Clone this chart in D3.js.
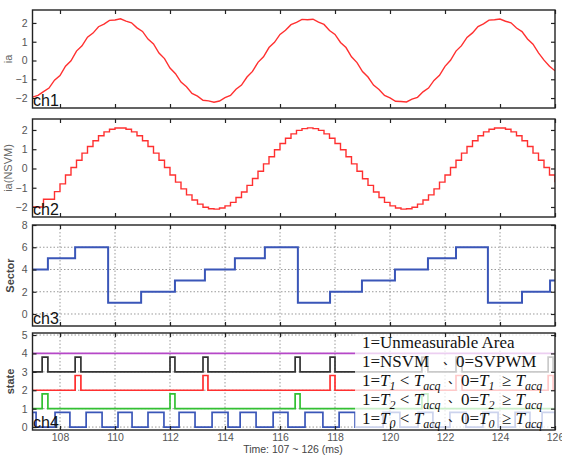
<!DOCTYPE html>
<html><head><meta charset="utf-8">
<script src="https://cdn.jsdelivr.net/npm/d3@7/dist/d3.min.js"></script>
<style>body{margin:0;background:#fff}svg{display:block}</style>
</head><body>
<svg id="c" width="562" height="456"></svg>
<script>
// ---------------- data ----------------
const sampleStart = 107, sampleStep = 0.2;   // ms
const ia = [-1.95,-1.86,-1.66,-1.47,-1.05,-0.80,-0.30,-0.02,0.50,0.78,1.24,1.46,1.80,1.94,2.14,2.16,
  2.22,2.10,2.01,1.74,1.55,1.14,0.88,0.40,0.10,-0.40,-0.70,-1.15,-1.40,-1.75,-1.90,-2.12,
  -2.15,-2.22,-2.16,-1.98,-1.86,-1.53,-1.31,-0.88,-0.58,-0.10,0.20,0.69,0.97,1.39,1.61,1.91,
  2.03,2.19,2.17,2.20,2.04,1.92,1.60,1.39,0.96,0.69,0.20,-0.11,-0.59,-0.88,-1.31,-1.54,
  -1.86,-1.99,-2.17,-2.18,-2.21,-2.06,-1.96,-1.67,-1.47,-1.06,-0.79,-0.31,0.01,0.50,0.79,1.23,
  1.47,1.81,1.95,2.15,2.17,2.21,2.09,2.01,1.73,1.54,1.15,0.87,0.41,0.02,-0.31,-0.55];
const iaNSVM = [-2.0,-2.0,-1.6,-1.6,-1.2,-0.8,-0.34,0.05,0.43,0.80,1.14,1.44,1.70,1.90,2.04,2.10,
  2.10,2.04,1.90,1.70,1.44,1.14,0.80,0.43,0.05,-0.34,-0.71,-1.06,-1.37,-1.64,-1.85,-2.01,
  -2.09,-2.11,-2.05,-1.94,-1.76,-1.51,-1.22,-0.88,-0.52,-0.14,0.24,0.61,0.97,1.30,1.57,1.80,
  1.98,2.07,2.11,2.07,1.98,1.80,1.57,1.30,0.97,0.61,0.24,-0.14,-0.53,-0.88,-1.22,-1.51,
  -1.76,-1.94,-2.05,-2.11,-2.09,-2.01,-1.85,-1.64,-1.37,-1.06,-0.71,-0.34,0.05,0.43,0.80,1.14,
  1.44,1.70,1.90,2.04,2.10,2.10,2.04,1.90,1.70,1.44,1.14,0.80,0.43,0.05,-0.34,-0.71];

const sectorTimes  = [107,107.56,108.55,109.75,110.95,112.18,113.27,114.36,115.45,116.65,117.82,118.98,120.18,121.38,122.40,123.56,124.80,125.82,126];
const sectorValues = [4,5,6,1,2,3,4,5,6,1,2,3,4,5,6,1,2,3,3];

// state channel pulses (ms)
const unmeasLevel = 4;
const nsvmOn   = [107.35,108.55,112.00,113.20,116.55,117.82,121.16,122.40,125.75];
const nsvmOff  = [107.56,108.76,112.18,113.38,116.73,118.00,121.38,122.62,125.93];
const t1On     = [108.55,113.20,117.82,122.40,125.75];
const t1Off    = [108.76,113.38,118.00,122.62,125.93];
const t2On     = [107.35,112.00,116.55,121.16];
const t2Off    = [107.56,112.18,116.73,121.38];
const t0On     = [107.00,107.82,108.95,110.11,111.20,112.33,113.53,114.55,115.75,116.91,118.15,119.75,121.02,122.18,123.38,124.55,125.53];
const t0Off    = [107.13,108.36,109.53,110.62,111.78,112.91,114.11,115.13,116.29,117.56,118.73,120.36,121.56,122.76,123.93,125.09,126.00];

const xTicks = [108,110,112,114,116,118,120,122,124,126];
const iaTicks = [-2,-1,0,1,2];
const sectorTicks = [0,2,4,6,8];
const stateTicks = [0,1,2,3,4,5];

// ---------------- layout ----------------
const svg = d3.select("#c");
const X0 = 32.5, X1 = 555;
const x = d3.scaleLinear().domain([107,126]).range([X0,X1]);
const panels = [
  {top:10,  bottom:108, dom:[-2.53,2.69], ticks:iaTicks,     label:"ia",       bold:false, ch:"ch1", grid:false},
  {top:119, bottom:217, dom:[-2.52,2.57], ticks:iaTicks,     label:"ia(NSVM)", bold:false, ch:"ch2", grid:false},
  {top:225, bottom:326, dom:[-1.08,8],    ticks:sectorTicks, label:"Sector",   bold:true,  ch:"ch3", grid:true},
  {top:333, bottom:430, dom:[-0.16,5.11], ticks:stateTicks,  label:"state",    bold:true,  ch:"ch4", grid:true}
];
panels.forEach(p => p.y = d3.scaleLinear().domain(p.dom).range([p.bottom,p.top]));

const font = "Arial, 'Liberation Sans', sans-serif";
const tickCol = "#555";

// grids
panels.forEach(p => {
  if (!p.grid) return;
  const g = svg.append("g").attr("stroke","#9a9a9a").attr("stroke-width",1).attr("stroke-dasharray","1.5,2");
  g.selectAll(".gx").data(xTicks.filter(t=>t<126)).enter().append("line")
    .attr("x1",d=>x(d)).attr("x2",d=>x(d)).attr("y1",p.top).attr("y2",p.bottom);
  g.selectAll(".gy").data(p.ticks.filter(t=>p.y(t)>p.top+1)).enter().append("line")
    .attr("x1",X0).attr("x2",X1).attr("y1",d=>p.y(d)).attr("y2",d=>p.y(d));
});

// clip
panels.forEach((p,i) => {
  svg.append("clipPath").attr("id","cp"+i).append("rect")
    .attr("x",X0).attr("y",p.top).attr("width",X1-X0).attr("height",p.bottom-p.top);
});

// panel 1
const sampT = i => sampleStart + i*sampleStep;
svg.append("path").attr("clip-path","url(#cp0)")
  .attr("d", d3.line().x((d,i)=>x(sampT(i))).y(d=>panels[0].y(d))(ia))
  .attr("fill","none").attr("stroke","#ff3030").attr("stroke-width",1.4);
// panel 2
svg.append("path").attr("clip-path","url(#cp1)")
  .attr("d", d3.line().curve(d3.curveStepAfter).x((d,i)=>x(sampT(i))).y(d=>panels[1].y(d))(iaNSVM))
  .attr("fill","none").attr("stroke","#ff3030").attr("stroke-width",1.4);
// panel 3
svg.append("path").attr("clip-path","url(#cp2)")
  .attr("d", d3.line().curve(d3.curveStepAfter).x(d=>x(d[0])).y(d=>panels[2].y(d[1]))(sectorTimes.map((t,i)=>[t,sectorValues[i]])))
  .attr("fill","none").attr("stroke","#3a56b8").attr("stroke-width",2);

// panel 4
function pulsePts(on, off, base, h){
  const pts = [[107, base]];
  on.forEach((t,i)=>{ pts.push([t,base],[t,base+h],[off[i],base+h],[off[i],base]); });
  pts.push([126, base]);
  return pts;
}
const p4 = panels[3];
const l4 = d3.line().x(d=>x(d[0])).y(d=>p4.y(d[1]));
const stateSeries = [
  {pts:[[107,unmeasLevel],[126,unmeasLevel]], col:"#b648c8"},
  {pts:pulsePts(nsvmOn,nsvmOff,3,0.8), col:"#333333"},
  {pts:pulsePts(t1On,t1Off,2,0.8), col:"#ff3030"},
  {pts:pulsePts(t2On,t2Off,1,0.8), col:"#33c033"},
  {pts:pulsePts(t0On,t0Off,0,0.8), col:"#3a56b8"}
];
stateSeries.forEach(s => svg.append("path").attr("clip-path","url(#cp3)")
  .attr("d", l4(s.pts)).attr("fill","none").attr("stroke",s.col).attr("stroke-width",1.7));

// legend overlay
svg.append("rect").attr("x",355).attr("y",334).attr("width",X1-355).attr("height",96)
  .attr("fill","#fff").attr("opacity",0.74);

// axes
panels.forEach((p,i) => {
  const last = i===3;
  const gL = svg.append("g").attr("transform",`translate(${X0},0)`)
    .call(d3.axisLeft(p.y).tickValues(p.ticks).tickSizeInner(-4).tickSizeOuter(0).tickPadding(5).tickFormat(d3.format("d")));
  const gR = svg.append("g").attr("transform",`translate(${X1},0)`)
    .call(d3.axisRight(p.y).tickValues(p.ticks).tickSizeInner(-4).tickSizeOuter(0).tickFormat(""));
  const gT = svg.append("g").attr("transform",`translate(0,${p.top})`)
    .call(d3.axisTop(x).tickValues(xTicks).tickSizeInner(-4).tickSizeOuter(0).tickFormat(""));
  const gB = svg.append("g").attr("transform",`translate(0,${p.bottom})`)
    .call(d3.axisBottom(x).tickValues(xTicks).tickSizeInner(-4).tickSizeOuter(0).tickPadding(4)
      .tickFormat(last ? d3.format("d") : ""));
  [gL,gR,gT,gB].forEach(g=>{
    g.select(".domain").remove();
    g.selectAll("line").attr("stroke","#222").attr("stroke-width",1.2);
    g.selectAll("text").attr("fill",tickCol).style("font-family",font).style("font-size","10.5px");
  });
  svg.append("rect").attr("x",X0).attr("y",p.top).attr("width",X1-X0).attr("height",p.bottom-p.top)
    .attr("fill","none").attr("stroke","#222").attr("stroke-width",1.4);
  svg.append("text").attr("transform",`translate(${p.bold?14:12},${(p.top+p.bottom)/2}) rotate(-90)`)
    .attr("text-anchor","middle").attr("fill",p.bold?"#444":"#666")
    .style("font-family",font).style("font-size","11px").style("font-weight",p.bold?"bold":"normal")
    .text(p.label);
  svg.append("text").attr("x",X0+0.5).attr("y",p.bottom-2).attr("fill","#111")
    .style("font-family",font).style("font-size","16px").text(p.ch);
});
svg.append("text").attr("x",293).attr("y",453).attr("text-anchor","middle")
  .attr("fill","#444").style("font-family",font).style("font-size","10.5px").text("Time: 107 ~ 126 (ms)");

// legend text
const serif = "'Liberation Serif','Times New Roman',serif";
function richText(xp, yp, segs){
  const t = svg.append("text").attr("x",xp).attr("y",yp).attr("fill","#111")
    .style("font-family",serif).style("font-size","17px");
  segs.forEach(s=>{
    const ts = t.append("tspan").text(s[0]);
    if (s[1]==="i") ts.style("font-style","italic");
    if (s[1]==="sub") { ts.style("font-style","italic").style("font-size","12px").attr("dy",3.5); }
    if (s[1]==="n") { ts.attr("dy",-3.5); }
    if (s[1]==="w") { ts.attr("dy",-3.5).attr("dx",3); }
  });
}
const legRows = [
  {y:348, a:[["1=Unmeasurable Area"]], b:null},
  {y:367, a:[["1=NSVM"]], b:[["0=SVPWM"]]},
  {y:386, a:[["1="],["T","i"],["1","sub"],[" < ","n"],["T","i"],["acq","sub"]], b:[["0="],["T","i"],["1","sub"],[" ≥  ","w"],["T","i"],["acq","sub"]]},
  {y:405, a:[["1="],["T","i"],["2","sub"],[" < ","n"],["T","i"],["acq","sub"]], b:[["0="],["T","i"],["2","sub"],[" ≥  ","w"],["T","i"],["acq","sub"]]},
  {y:424, a:[["1="],["T","i"],["0","sub"],[" < ","n"],["T","i"],["acq","sub"]], b:[["0="],["T","i"],["0","sub"],[" ≥  ","w"],["T","i"],["acq","sub"]]}
];
legRows.forEach((r,i)=>{
  richText(362, r.y, r.a);
  if (r.b) {
    svg.append("text").attr("x",i===1?443:448).attr("y",r.y-2).attr("fill","#111")
      .style("font-family","'Noto Sans CJK SC',sans-serif").style("font-size","12px").text("、");
    richText(i===1?456:461, r.y, r.b);
  }
});
</script>
</body></html>
